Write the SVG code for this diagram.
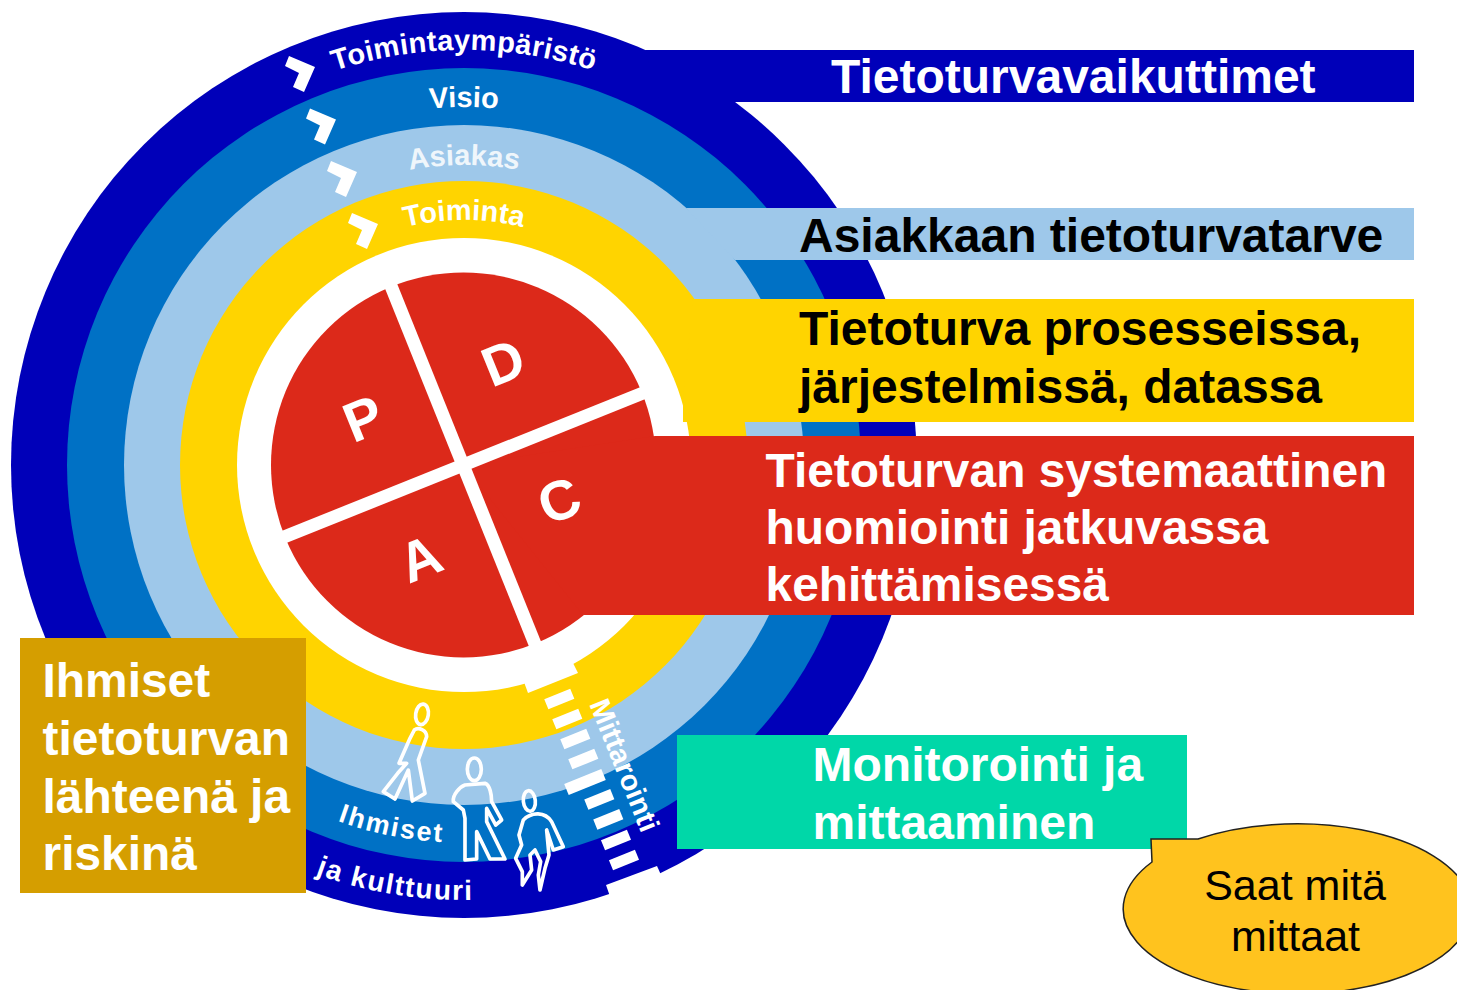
<svg xmlns="http://www.w3.org/2000/svg" width="1457" height="990" viewBox="0 0 1457 990">
<style>
text{font-family:"Liberation Sans",Arial,sans-serif}
.b{font-weight:700}
.big{font-size:48px;font-weight:700}
.ring{font-size:29px;font-weight:700;fill:#fff;text-anchor:middle}
.pdca{font-size:56px;font-weight:700;fill:#fff;text-anchor:middle}
.fig{fill:none;stroke:#fff;stroke-width:11;stroke-linejoin:round}
.w{fill:#fff}
</style>
<defs>
<path id="a1" d="M49,465A415,415 0 0 1 879,465"/>
<path id="a2" d="M106,465A358,358 0 0 1 822,465"/>
<path id="a3" d="M164,465A300,300 0 0 1 764,465"/>
<path id="a4" d="M219,465A245,245 0 0 1 709,465"/>
<path id="a5" d="M86,465A378,378 0 0 0 842,465"/>
<path id="a6" d="M29,465A435,435 0 0 0 899,465"/>
<polygon id="chev" points="-1,-1 25,10 14,35 3,30 9,16 -5,9"/>
<rect id="dash" x="-14" y="-5.500" width="28" height="11" class="w"/>
</defs>
<rect width="1457" height="990" fill="#fff"/>

<g id="rings">
<circle cx="464" cy="465" r="453" fill="#0000b9"/>
<circle cx="464" cy="465" r="397" fill="#0071c5"/>
<circle cx="464" cy="465" r="340" fill="#9ec8ea"/>
<circle cx="464" cy="465" r="284" fill="#ffd400"/>
<circle cx="464" cy="465" r="227" fill="#fff"/>
</g>

<g id="ring-labels">
<text class="ring" letter-spacing="0.350"><textPath href="#a1" startOffset="50%">Toimintaympäristö</textPath></text>
<text class="ring"><textPath href="#a2" startOffset="50%">Visio</textPath></text>
<text class="ring" style="fill-opacity:.85"><textPath href="#a3" startOffset="50%">Asiakas</textPath></text>
<text class="ring"><textPath href="#a4" startOffset="50%">Toiminta</textPath></text>
<text class="ring" style="font-size:27px" letter-spacing="2"><textPath href="#a5" startOffset="43.700%">Ihmiset</textPath></text>
<text class="ring" style="font-size:28px" letter-spacing="1.500"><textPath href="#a6" startOffset="44.800%">ja kulttuuri</textPath></text>
</g>

<g id="chevrons" class="w">
<use href="#chev" x="290" y="57"/>
<use href="#chev" x="311" y="109.500"/>
<use href="#chev" x="332" y="162"/>
<use href="#chev" x="353" y="214"/>
</g>

<g id="measure">
<polygon class="w" points="524,682 573,663 578,673 528,693"/>
<polygon class="w" points="606,885 657,866 666,886 614,908"/>
<use href="#dash" transform="translate(559.300,699) rotate(-22)"/>
<use href="#dash" transform="translate(567.300,719) rotate(-22)"/>
<use href="#dash" transform="translate(575.300,739) rotate(-22)"/>
<use href="#dash" transform="translate(583.300,759) rotate(-22)"/>
<rect class="w" x="-20" y="-6" width="40" height="12" transform="translate(585,782) rotate(-22)"/>
<use href="#dash" transform="translate(599.300,799.300) rotate(-22)"/>
<use href="#dash" transform="translate(608.300,819.300) rotate(-22)"/>
<use href="#dash" transform="translate(616,840) rotate(-22)"/>
<use href="#dash" transform="translate(624,860) rotate(-22)"/>
<text transform="translate(589,704) rotate(68)" class="b" font-size="29" fill="#fff">Mittarointi</text>
</g>

<g id="figures" transform="translate(375,695) scale(.3333)">
<g id="walker" class="fig">
<ellipse cx="141" cy="58" rx="19" ry="31" transform="rotate(8 141 58)"/>
<path d="M118,105C130,95 155,105 155,125L130,195 150,295 112,318 100,225 60,312 25,290 68,235 95,205 72,205 105,130Z"/>
</g>
<g id="stander" class="fig">
<ellipse cx="298" cy="223" rx="21" ry="34"/>
<path d="M270,270L330,265C345,270 350,300 350,320L380,375 362,390 335,340 335,380 390,492 345,492 305,410 305,492 270,495 270,370 265,345 235,320C232,300 255,275 270,270Z"/>
</g>
<g id="sitter" class="fig">
<ellipse cx="463" cy="318" rx="18" ry="31" transform="rotate(-6 463 318)"/>
<path d="M445,375C470,350 510,350 530,380L565,455 535,465 515,405 522,480 510,520 495,585 490,540 497,500 480,465 465,480 470,525 442,570 442,530 422,490 440,450 432,420Z"/>
</g>
</g>

<g id="node-vaikuttimet">
<polygon points="645,50 1414,50 1414,102 737,102 660,102" fill="#0000b9"/>
<text x="831" y="93" class="big" fill="#fff">Tietoturvavaikuttimet</text>
</g>
<g id="node-asiakas">
<polygon points="686,208 1414,208 1414,260 735,260" fill="#9ec8ea"/>
<text x="799" y="252" class="big" fill="#000">Asiakkaan tietoturvatarve</text>
</g>
<g id="node-prosessit">
<polygon points="693,299 1414,299 1414,422 683,422 683,400" fill="#ffd400"/>
<text x="799" y="345" class="big" fill="#000">Tietoturva prosesseissa,</text>
<text x="799" y="403" class="big" fill="#000">järjestelmissä, datassa</text>
</g>
<g id="node-pdca">
<circle cx="463.500" cy="465" r="192.500" fill="#dc291a"/>
<polygon points="463,465 655,436 1414,436 1414,615 583,615" fill="#dc291a"/>
<g stroke="#fff" stroke-width="13">
<line x1="389" y1="281" x2="537" y2="649"/>
<line x1="279" y1="539" x2="648" y2="391"/>
</g>
<text class="pdca" transform="translate(363,418) rotate(-22)" y="20">P</text>
<text class="pdca" transform="translate(503,362) rotate(-22)" y="20">D</text>
<text class="pdca" transform="translate(559,500) rotate(-22)" y="20">C</text>
<text class="pdca" transform="translate(420,558) rotate(-22)" y="20">A</text>
<text x="765.500" y="487" class="big" style="font-size:47.900px" fill="#fff">Tietoturvan systemaattinen</text>
<text x="765.500" y="544" class="big" style="font-size:47.900px" fill="#fff">huomiointi jatkuvassa</text>
<text x="765.500" y="601" class="big" style="font-size:47.900px" fill="#fff">kehittämisessä</text>
</g>
<g id="node-ihmiset">
<rect x="20" y="638" width="286" height="255" fill="#d59e00"/>
<text x="42.500" y="697" class="big" style="font-size:47.900px" fill="#fff">Ihmiset</text>
<text x="42.500" y="755" class="big" style="font-size:47.900px" fill="#fff">tietoturvan</text>
<text x="42.500" y="813" class="big" style="font-size:47.900px" fill="#fff">lähteenä ja</text>
<text x="42.500" y="870" class="big" style="font-size:47.900px" fill="#fff">riskinä</text>
</g>
<g id="node-monitorointi">
<rect x="677" y="735" width="510" height="114" fill="#00d7a8"/>
<text x="812.500" y="781" class="big" fill="#fff">Monitorointi ja</text>
<text x="812.500" y="839" class="big" fill="#fff">mittaaminen</text>
</g>
<g id="node-saat">
<path d="M1198,839A174,85 0 1 1 1152,862L1151,839Z" fill="#ffc31e" stroke="#222" stroke-width="1.500"/>
<text x="1295" y="900" font-size="43" text-anchor="middle" fill="#000">Saat mitä</text>
<text x="1295.500" y="951" font-size="43" text-anchor="middle" fill="#000">mittaat</text>
</g>
</svg>
